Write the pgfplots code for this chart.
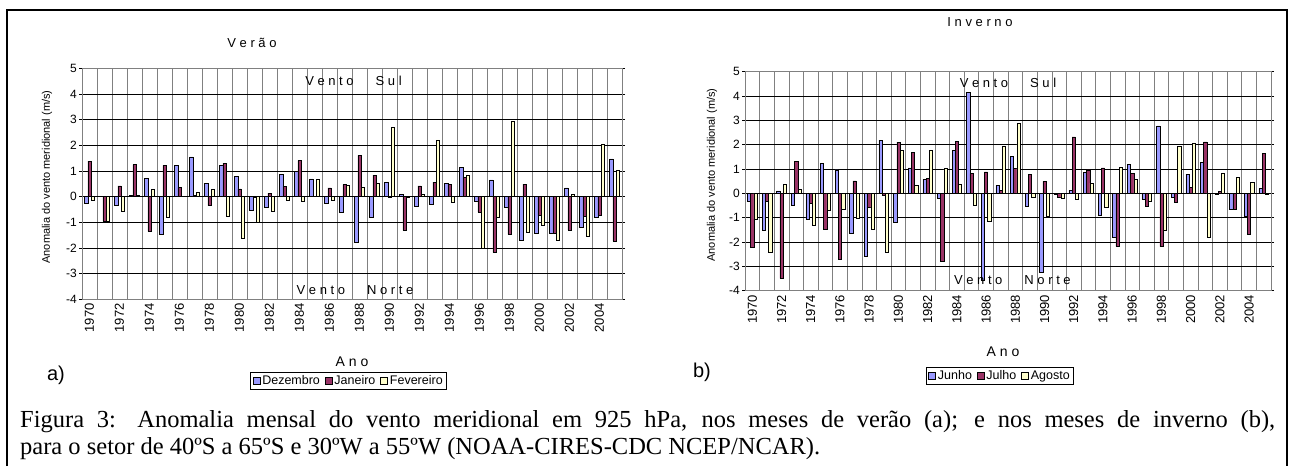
\documentclass[border=0pt]{standalone}
\usepackage{fontspec}
\setmainfont{Liberation Sans}
\newfontfamily\capfont{Liberation Serif}
\usepackage{pgfplots}
\usepackage{pgfplotstable}
\pgfplotsset{compat=1.18}
\definecolor{cblue}{HTML}{9999FF}
\definecolor{cmaroon}{HTML}{993366}
\definecolor{cyellow}{HTML}{FFFFCC}

\pgfplotstableread{
year D J F
1970 -0.26 1.38 -0.13
1971 0.02 -0.95 -0.95
1972 -0.35 0.42 -0.55
1973 0.06 1.25 0.04
1974 0.71 -1.35 0.29
1975 -1.48 1.22 -0.80
1976 1.23 0.35 0.02
1977 1.55 0.04 0.16
1978 0.52 -0.35 0.27
1979 1.22 1.30 -0.75
1980 0.78 0.30 -1.64
1981 -0.52 -0.03 -1.01
1982 -0.43 0.14 -0.55
1983 0.88 0.39 -0.13
1984 0.99 1.40 -0.19
1985 0.69 0.01 0.66
1986 -0.26 0.34 -0.13
1987 -0.62 0.47 0.43
1988 -1.77 1.61 0.35
1989 -0.80 0.84 0.53
1990 0.57 -0.02 2.71
1991 0.09 -1.31 -0.02
1992 -0.38 0.42 0.08
1993 -0.29 0.57 2.21
1994 0.52 0.49 -0.22
1995 1.13 0.75 0.84
1996 -0.19 -0.60 -2.03
1997 0.65 -2.17 -0.82
1998 -0.43 -1.47 2.95
1999 -1.70 0.49 -1.38
2000 -1.42 -0.73 -1.13
2001 -1.42 -1.44 -1.69
2002 0.34 -1.30 0.09
2003 -1.18 -0.75 -1.53
2004 -0.79 -0.71 2.06
2005 1.47 -1.73 1.04
}\verao

\pgfplotstableread{
year Jn Jl Ag
1970 -0.33 -2.20 -1.05
1971 -1.52 -0.32 -2.41
1972 0.10 -3.49 0.38
1973 -0.47 1.32 0.15
1974 -1.05 -0.42 -1.29
1975 1.23 -1.47 -0.70
1976 0.97 -2.70 -0.64
1977 -1.64 0.51 -1.04
1978 -2.59 -0.56 -1.49
1979 2.19 -0.07 -2.41
1980 -1.20 2.11 1.77
1981 1.05 1.68 0.33
1982 0.59 0.62 1.77
1983 -0.20 -2.77 1.03
1984 1.78 2.15 0.36
1985 4.14 0.81 -0.47
1986 -3.56 0.88 -1.15
1987 0.33 0.11 1.93
1988 1.51 1.03 2.88
1989 -0.52 0.79 -0.18
1990 -3.23 0.49 -0.95
1991 -0.03 -0.16 -0.20
1992 0.12 2.32 -0.25
1993 0.86 0.97 0.42
1994 -0.90 1.05 -0.56
1995 -1.82 -2.18 1.07
1996 1.18 0.82 0.58
1997 -0.25 -0.51 -0.33
1998 2.77 -2.19 -1.53
1999 -0.16 -0.38 1.93
2000 0.79 0.26 2.08
2001 1.27 2.12 -1.79
2002 -0.04 0.08 0.84
2003 -0.64 -0.64 0.66
2004 -0.92 -1.66 0.44
2005 0.21 1.64 -0.05
}\inverno

\pgfplotsset{
  anomaly/.style={
    scale only axis,
    ybar=0pt,
    bar width=0.222,
    xmin=1969.5, xmax=2005.5,
    ymin=-4, ymax=5,
    ytick={-4,-3,...,5},
    xtick={1970,1972,...,2004},
    minor xtick={1969.5,1970.5,...,2005.5},
    ymajorgrids=true,
    xminorgrids=true,
    major grid style={black, line width=0.6pt},
    minor grid style={gray, line width=0.6pt},
    xtick style={draw=none},
    ytick style={black, line width=0.6pt},
    major tick length=3pt,
    tick align=outside,
    axis line style={gray, line width=0.6pt},
    /pgf/number format/assume math mode=true,
    /pgf/number format/1000 sep={},
    x tick label style={rotate=90, anchor=east, font=\fontsize{13}{13}\selectfont, inner sep=1pt},
    y tick label style={font=\fontsize{12}{12}\selectfont, inner sep=2pt},
    legend columns=-1,
    legend style={draw=black, line width=0.6pt, font=\fontsize{12.5}{13}\selectfont,
      inner xsep=2pt, inner ysep=1pt, anchor=center,
      /tikz/every even column/.append style={column sep=3pt}},
    legend image code/.code={\draw[##1, line width=0.5pt] (0pt,-3.5pt) rectangle (7pt,3.5pt);},
  },
  barD/.style={fill=cblue, draw=black, line width=0.5pt},
  barJ/.style={fill=cmaroon, draw=black, line width=0.5pt},
  barF/.style={fill=cyellow, draw=black, line width=0.5pt},
}

\begin{document}
\begin{tikzpicture}[x=1pt,y=1pt]
\path[use as bounding box] (0,0) rectangle (1293,466);
\draw[line width=1.6pt] (7,0) -- (7,456) -- (1287,456) -- (1287,0);

% ---------- Panel a: Verao ----------
\begin{axis}[anomaly, at={(82pt,166.7pt)}, anchor=south west, width=540pt, height=231pt,
  legend style={at={(0.494,-0.352)}}]
\addplot[barD] table[x=year,y=D]{\verao};
\addplot[barJ] table[x=year,y=J]{\verao};
\addplot[barF] table[x=year,y=F]{\verao};
\legend{Dezembro,Janeiro,Fevereiro}
\node[font=\fontsize{13}{13}\selectfont] at (axis cs:1987.6,4.52) {V e n t o\hspace{22pt}S u l};
\node[font=\fontsize{13}{13}\selectfont] at (axis cs:1987.7,-3.64) {V e n t o\hspace{22pt}N o r t e};
\end{axis}

% ---------- Panel b: Inverno ----------
\begin{axis}[anomaly, at={(745pt,175.3pt)}, anchor=south west, width=526pt, height=219pt,
  legend style={at={(0.485,-0.389)}}]
\addplot[barD] table[x=year,y=Jn]{\inverno};
\addplot[barJ] table[x=year,y=Jl]{\inverno};
\addplot[barF] table[x=year,y=Ag]{\inverno};
\legend{Junho,Julho,Agosto}
\node[font=\fontsize{13}{13}\selectfont] at (axis cs:1987.5,4.54) {V e n t o\hspace{22pt}S u l};
\node[font=\fontsize{13}{13}\selectfont] at (axis cs:1987.8,-3.56) {V e n t o\hspace{22pt}N o r t e};
\end{axis}

% titles and labels
\node[font=\fontsize{13}{13}\selectfont] at (252,423) {V e r ã o};
\node[font=\fontsize{13}{13}\selectfont] at (980,444) {I n v e r n o};
\node[font=\fontsize{11}{11}\selectfont, rotate=90] at (47,289) {Anomalia do vento meridional (m/s)};
\node[font=\fontsize{11}{11}\selectfont, rotate=90] at (712,291) {Anomalia do vento meridional (m/s)};
\node[font=\fontsize{14}{14}\selectfont] at (352,104) {A n o};
\node[font=\fontsize{14}{14}\selectfont] at (1003,114) {A n o};
\node[font=\fontsize{20}{20}\selectfont] at (56,91) {a)};
\node[font=\fontsize{20}{20}\selectfont] at (702,94) {b)};

% caption
\node[anchor=base west, inner sep=0pt] at (20,39) {\capfont\fontsize{24.5}{27}\selectfont\makebox[1255pt][s]{Figura 3: Anomalia mensal do vento meridional em 925 hPa, nos meses de verão (a); e nos meses de inverno (b),}};
\node[anchor=base west, inner sep=0pt] at (20,12) {\capfont\fontsize{24.5}{27}\selectfont para o setor de 40ºS a 65ºS e 30ºW a 55ºW (NOAA-CIRES-CDC NCEP/NCAR).};
\end{tikzpicture}
\end{document}
